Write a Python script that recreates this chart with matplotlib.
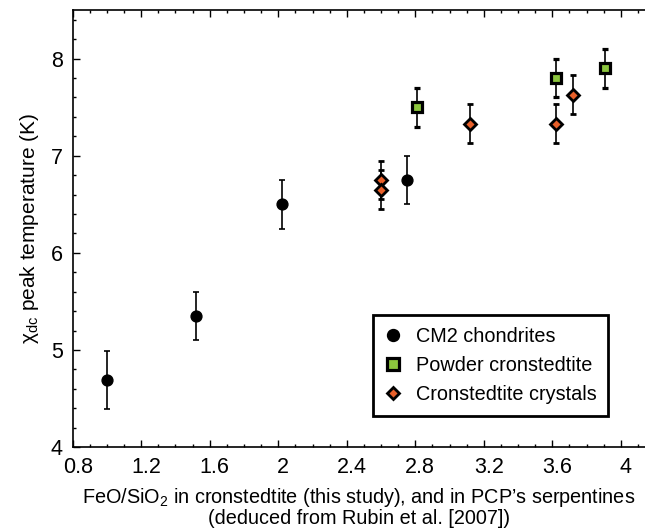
import matplotlib
matplotlib.use("Agg")
import matplotlib.pyplot as plt
import matplotlib.transforms as mtransforms
from matplotlib.ticker import MultipleLocator

plt.rcParams['font.family'] = ['Liberation Sans', 'DejaVu Sans']
plt.rcParams['mathtext.fontset'] = 'custom'
plt.rcParams['mathtext.rm'] = 'Liberation Sans'

# CM2 chondrites
cm2_x = [1.0, 1.52, 2.02, 2.75]
cm2_y = [4.69, 5.35, 6.5, 6.75]
cm2_err = [0.3, 0.25, 0.25, 0.25]

# powder cronstedtite
powder_x = [2.81, 3.62, 3.91]
powder_y = [7.5, 7.8, 7.9]
powder_err = [0.2, 0.2, 0.2]

# cronstedtite crystals
cryst_x = [2.6, 2.6, 3.12, 3.62, 3.72]
cryst_y = [6.75, 6.65, 7.33, 7.33, 7.63]
cryst_err = [0.2, 0.2, 0.2, 0.2, 0.2]

labels = ['CM2 chondrites', 'Powder cronstedtite', 'Cronstedtite crystals']

fig = plt.figure(figsize=(6.45, 5.31), dpi=100)
ax = fig.add_axes([0.1127, 0.158, 0.887, 0.823])

eb = dict(ecolor='black', elinewidth=1.2, capsize=2.5, capthick=1.2, linestyle='none')
c1 = ax.errorbar(cm2_x, cm2_y, yerr=cm2_err, fmt='o', color='black', ms=7.8, **eb)
c2 = ax.errorbar(powder_x, powder_y, yerr=powder_err, fmt='s', mfc='#8cc63e', mec='black',
                 mew=2.3, ms=7.4, **eb)
c3 = ax.errorbar(cryst_x, cryst_y, yerr=cryst_err, fmt='D', mfc='#e8602a', mec='black',
                 mew=2.0, ms=5.8, **eb)

ax.set_xlim(0.8, 4.14)
ax.set_ylim(4, 8.5)
ax.xaxis.set_minor_locator(MultipleLocator(0.1))
ax.yaxis.set_major_locator(MultipleLocator(1))
ax.yaxis.set_minor_locator(MultipleLocator(0.2))
ax.set_xticks([0.8, 1.2, 1.6, 2.0, 2.4, 2.8, 3.2, 3.6, 4.0])
ax.set_xticklabels(['0.8', '1.2', '1.6', '2', '2.4', '2.8', '3.2', '3.6', '4'])

ax.tick_params(which='both', direction='in', top=True, right=False, width=1,
               labelsize=15.5, pad=7)
ax.tick_params(which='major', length=5)
ax.tick_params(which='minor', length=2.5)
ax.spines['right'].set_visible(False)
for s in ['left', 'top', 'bottom']:
    ax.spines[s].set_linewidth(1.2)

shift = mtransforms.ScaledTranslation(5 / 100, 0, fig.dpi_scale_trans)
for lab in ax.get_xticklabels():
    lab.set_transform(lab.get_transform() + shift)

ax.set_ylabel('χ$_{\\mathrm{dc}}$ peak temperature (K)', fontsize=15, labelpad=7)
ax.set_xlabel('FeO/SiO$_2$ in cronstedtite (this study), and in PCP’s serpentines\n'
              '(deduced from Rubin et al. [2007])', fontsize=14.3, labelpad=6,
              linespacing=1.0)

leg = ax.legend([c1[0], c2[0], c3[0]], labels, loc='lower left',
                bbox_to_anchor=(0.525, 0.071), borderaxespad=0,
                fontsize=14.3, frameon=True, fancybox=False, edgecolor='black',
                handlelength=0.8, handletextpad=0.75, labelspacing=0.5,
                borderpad=0.6, numpoints=1, markerscale=1.1)
leg.get_frame().set_linewidth(2)
leg.get_frame().set_alpha(1)

fig.savefig('out.png', dpi=100)
